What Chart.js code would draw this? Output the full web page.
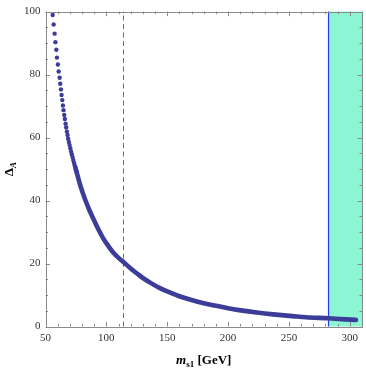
<!DOCTYPE html>
<html>
<head>
<meta charset="utf-8">
<script src="https://cdn.jsdelivr.net/npm/chart.js@4.4.1/dist/chart.umd.min.js"></script>
<style>
  html, body { margin: 0; padding: 0; background: #fff; }
  canvas { display: block; }
</style>
</head>
<body>
<canvas id="delta" width="366" height="370"></canvas>
<script>
// m_s1 [GeV] vs Delta_A
// upper part: separate dots
const dotMass  = [55.9, 56.7, 57.5, 58.1, 58.9, 59.4, 60.2, 60.8, 61.6, 62.1, 62.7, 63.2,
                  63.8, 64.3, 64.8, 65.4, 65.9, 66.5, 67.0, 67.6, 68.1, 68.6, 69.2,
                  69.8, 70.4, 71.0, 71.6, 72.2, 72.8, 73.4, 74.0, 74.6, 75.2, 75.8]
const dotDelta = [98.9, 95.9, 93.0, 90.3, 87.9, 85.4, 83.2, 81.0, 79.0, 77.1, 75.3, 73.5,
                  71.9, 70.2, 68.7, 67.2, 65.9, 64.4, 63.2, 61.9, 60.8, 59.6, 58.6,
                  57.6, 56.6, 55.6, 54.7, 53.8, 52.9, 52.0, 51.2, 50.4, 49.6, 48.8]
// lower part: dots merge into a solid band
const bandMass  = [74.6, 79, 82.4, 86, 89.2, 93, 97.4, 101, 105.6, 110, 114, 120, 125, 130,
                   137, 144, 152, 160, 170, 180, 190, 200, 209, 225, 237, 253, 264, 283, 293, 305]
const bandDelta = [50.4, 44.3, 40.5, 37.0, 34.3, 31.2, 28.0, 25.9, 23.5, 21.8, 20.5, 18.4, 16.9, 15.4,
                   13.7, 12.2, 10.8, 9.6, 8.4, 7.4, 6.6, 5.8, 5.2, 4.35, 3.85, 3.3, 2.93, 2.6, 2.35, 2.1]

const xRange = [50, 310]
const yRange = [0, 100]
const lepBound = 114          // dashed line
const excluded = [282.5, 310] // shaded region

const dotColor = 'rgb(60,60,153)'
const serif = '"Liberation Serif", "DejaVu Serif", serif'

const framePlugin = {
  id: 'frame',
  beforeDatasetsDraw(chart) {
    const {ctx, chartArea: {top, bottom}, scales: {x}} = chart
    const x0 = x.getPixelForValue(excluded[0])
    const x1 = x.getPixelForValue(excluded[1])
    ctx.save()
    ctx.fillStyle = 'rgb(140,246,212)'
    ctx.fillRect(x0, top, x1 - x0, bottom - top)
    ctx.strokeStyle = 'rgb(40,60,235)'
    ctx.lineWidth = 1.2
    ctx.beginPath()
    ctx.moveTo(x0, top); ctx.lineTo(x0, bottom)
    ctx.stroke()
    const xl = Math.round(x.getPixelForValue(lepBound)) + 0.5
    ctx.strokeStyle = 'rgb(225,60,60)'
    ctx.lineWidth = 1
    ctx.setLineDash([5, 3.5])
    ctx.beginPath()
    ctx.moveTo(xl, bottom); ctx.lineTo(xl, top)
    ctx.stroke()
    ctx.restore()
  },
  afterDatasetsDraw(chart) {
    const {ctx, chartArea: {left, right, top, bottom}, scales: {x, y}} = chart
    ctx.save()
    ctx.strokeStyle = '#8a8a8a'
    ctx.lineWidth = 1
    ctx.strokeRect(Math.round(left) + 0.5, Math.round(top) + 0.5,
                   Math.round(right - left) - 1, Math.round(bottom - top))
    ctx.beginPath()
    // x ticks, bottom and top
    for (let v = xRange[0]; v <= xRange[1]; v += 10) {
      const px = Math.round(x.getPixelForValue(v)) + 0.5
      const len = v % 50 === 0 ? 4.5 : 2.5
      ctx.moveTo(px, bottom); ctx.lineTo(px, bottom - len)
      ctx.moveTo(px, top); ctx.lineTo(px, top + len)
    }
    // y ticks, left and right
    for (let v = yRange[0]; v <= yRange[1]; v += 5) {
      const py = Math.round(y.getPixelForValue(v)) + 0.5
      const len = v % 20 === 0 ? 4.5 : 2.5
      ctx.moveTo(left, py); ctx.lineTo(left + len, py)
      ctx.moveTo(right, py); ctx.lineTo(right - len, py)
    }
    ctx.stroke()

    // x title: m_s1 [GeV]
    ctx.fillStyle = '#000'
    ctx.textBaseline = 'alphabetic'
    const big = 'bold 13px ' + serif, bigI = 'italic bold 13px ' + serif, small = 'bold 9px ' + serif
    ctx.font = bigI; const wM = ctx.measureText('m').width
    ctx.font = small; const wS = ctx.measureText('s1').width
    ctx.font = big; const wG = ctx.measureText(' [GeV]').width
    let cx = (left + right) / 2 - (wM + wS + wG) / 2
    const by = 364
    ctx.font = bigI; ctx.fillText('m', cx, by); cx += wM
    ctx.font = small; ctx.fillText('s1', cx, by + 3); cx += wS
    ctx.font = big; ctx.fillText(' [GeV]', cx, by)

    // y title: Delta_A
    ctx.translate(13, (top + bottom) / 2)
    ctx.rotate(-Math.PI / 2)
    ctx.font = big; const wD = ctx.measureText('Δ').width
    ctx.font = 'italic bold 9px ' + serif; const wA = ctx.measureText('A').width
    let cy = -(wD + wA) / 2
    ctx.font = big; ctx.fillText('Δ', cy, 0); cy += wD
    ctx.font = 'italic bold 9px ' + serif; ctx.fillText('A', cy, 3)
    ctx.restore()
  }
}

const ctx = document.getElementById('delta').getContext('2d')
const deltaChart = new Chart(ctx, {
  type: 'scatter',
  data: {
    datasets: [{
      label: 'band',
      data: bandMass.map((m, i) => ({x: m, y: bandDelta[i]})),
      showLine: true,
      borderColor: dotColor,
      borderWidth: 4.6,
      borderCapStyle: 'round',
      borderJoinStyle: 'round',
      cubicInterpolationMode: 'monotone',
      pointRadius: 0
    }, {
      label: 'dots',
      data: dotMass.map((m, i) => ({x: m, y: dotDelta[i]})),
      backgroundColor: dotColor,
      borderWidth: 0,
      pointRadius: 2.2
    }]
  },
  options: {
    responsive: false,
    animation: false,
    devicePixelRatio: 1,
    layout: { padding: { left: 0, right: 3, top: 6, bottom: 0 } },
    plugins: { legend: { display: false }, tooltip: { enabled: false } },
    scales: {
      x: {
        type: 'linear', min: xRange[0], max: xRange[1],
        grid: { display: false, drawTicks: false },
        border: { display: false },
        ticks: { stepSize: 50, includeBounds: false, padding: 5, color: '#333',
                 font: { family: serif, size: 11 }, maxRotation: 0 },
        afterFit(scale) { scale.height = 43.5 }
      },
      y: {
        min: yRange[0], max: yRange[1],
        grid: { display: false, drawTicks: false },
        border: { display: false },
        ticks: { stepSize: 20, padding: 5, color: '#333', font: { family: serif, size: 11 } },
        afterFit(scale) { scale.width = 45.5 }
      }
    }
  },
  plugins: [framePlugin]
})
</script>
</body>
</html>
